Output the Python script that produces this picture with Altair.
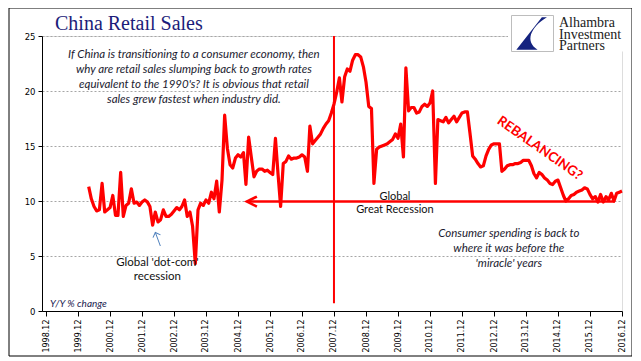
import altair as alt
import pandas as pd

# ---------------- data ----------------
title_text = "China Retail Sales"
series_start = "2000-04-01"          # first monthly observation
retail_yoy = [
    11.3, 10.2, 9.5, 9.1, 9.2, 11.6, 9.0, 9.2, 9.4, 10.5, 8.7, 8.7,
    12.6, 8.6, 9.6, 9.8, 11.1, 9.8, 9.9, 9.6, 9.9, 10.1, 9.9, 9.5,
    7.8, 9.0, 8.1, 8.3, 9.2, 8.6, 8.6, 8.8, 9.1, 9.4, 9.2, 9.5,
    10.1, 8.6, 9.0, 7.7, 4.3, 9.2, 9.8, 9.6, 10.1, 9.8, 10.8, 10.2,
    11.8, 9.0, 11.9, 17.8, 14.8, 13.3, 13.0, 13.9, 14.2, 14.0, 14.4, 11.5,
    15.8, 14.0, 12.2, 12.7, 12.9, 12.9, 12.7, 12.8, 12.6, 12.4, 15.7, 12.6,
    9.5, 13.4, 13.6, 14.1, 13.8, 13.9, 13.9, 14.0, 14.2, 14.0, 12.7, 16.8,
    15.2, 15.5, 15.8, 16.1, 16.6, 17.0, 17.3, 18.0, 18.8, 19.9, 21.2, 19.0,
    21.3, 22.0, 21.8, 22.8, 23.3, 23.3, 23.1, 22.2, 20.8, 18.6, 18.4, 11.6,
    14.7, 14.9, 15.0, 15.1, 15.2, 15.4, 15.6, 16.1, 15.7, 17.0, 14.0, 22.1,
    18.2, 18.5, 18.5, 18.0, 18.1, 18.6, 18.8, 18.6, 18.9, 20.0, 11.6, 17.4,
    17.3, 17.2, 17.6, 17.1, 17.4, 17.7, 17.2, 17.6, 18.0, 18.1, 18.1, 16.2,
    14.1, 13.8, 13.4, 13.1, 13.2, 14.1, 14.7, 15.1, 15.2, 15.2, 15.2, 12.7,
    12.9, 13.2, 13.3, 13.3, 13.4, 13.4, 13.5, 13.7, 13.7, 13.7, 13.2, 12.5,
    12.1, 12.6, 12.4, 12.1, 11.9, 11.6, 11.5, 11.8, 11.9, 11.2, 10.5, 10.0,
    10.2, 10.5, 10.6, 10.8, 10.9, 11.0, 11.2, 11.1, 10.6, 10.2, 10.4, 9.9,
    10.6, 9.9, 10.4, 10.1, 10.7, 10.0, 10.7, 10.8, 10.9,
]
tick_labels = ["1998.12", "1999.12", "2000.12", "2001.12", "2002.12", "2003.12",
               "2004.12", "2005.12", "2006.12", "2007.12", "2008.12", "2009.12",
               "2010.12", "2011.12", "2012.12", "2013.12", "2014.12", "2015.12",
               "2016.12"]
y_ticks = [0, 5, 10, 15, 20, 25]
x_domain = ["1998-10-16", "2016-12-01"]

question_lines = [
    "If China is transitioning to a consumer economy, then",
    "why are retail sales slumping back to growth rates",
    "equivalent to the 1990's?  It is obvious that retail",
    "sales grew fastest when industry did.",
]
question_date = "2003-07-16"
question_vals = [23.27, 21.91, 20.55, 19.18]

consumer_lines = ["Consumer spending is back to", "where it was before the", "'miracle' years"]
consumer_date = "2013-05-19"
consumer_vals = [7.0, 5.64, 4.27]

dotcom_lines = ["Global 'dot-com'", "recession"]
dotcom_date = "2002-05-25"
dotcom_vals = [4.34, 3.12]

gr_lines = ["Global", "Great Recession"]
gr_date = "2009-10-27"
gr_vals = [10.39, 9.18]

rebal_text = "REBALANCING?"
rebal_date = "2014-05-07"
rebal_val = 14.79

yy_text = "Y/Y % change"
yy_date = "1999-01-16"
yy_val = 0.64

vline_date = "2007-12-01"
vline_vals = [25.0, 0.7]

harrow_dates = ["2005-03-12", "2016-09-11"]
harrow_val = 9.95

blue_arrow_tip = ("2002-05-02", 7.14)
blue_arrow_tail = ("2002-06-28", 5.91)

logo_lines = ["Alhambra", "Investment", "Partners"]

# ---------------- helpers ----------------
def dt(s):
    t = pd.Timestamp(s)
    return alt.DateTime(year=t.year, month=t.month, date=t.day)

tick_values = [alt.DateTime(year=int(l[:4]), month=int(l[5:]), date=1) for l in tick_labels]

dates = pd.date_range(pd.Timestamp(series_start), periods=len(retail_yoy), freq="MS")
df = pd.DataFrame({"date": dates, "value": retail_yoy})

AX_FONT = "DejaVu Sans"
TXT_FONT = "Lato"

x_axis = alt.Axis(values=tick_values, format="%Y.%m", labelAngle=-90,
                  labelAlign="right", labelBaseline="middle", tickSize=5,
                  labelPadding=3, grid=False, domainColor="black", tickColor="black",
                  labelColor="black", labelFont=AX_FONT, labelFontSize=8,
                  labelOverlap=False, labelFlush=False, labelSeparation=0)

x_main = alt.X(
    "date:T", title=None,
    scale=alt.Scale(domain=[dt(x_domain[0]), dt(x_domain[1])], nice=False),
    axis=x_axis,
)
y_main = alt.Y(
    "value:Q", title=None,
    scale=alt.Scale(domain=[0, 25], nice=False, zero=True),
    axis=alt.Axis(values=y_ticks, grid=True, gridDash=[2, 2], gridColor="#a6a6a6",
                  tickSize=4, labelPadding=3, domainColor="black", tickColor="black",
                  labelColor="black", labelFont=AX_FONT, labelFontSize=8.5),
)


def xq(field):
    return alt.X(field, title=None, axis=x_axis)


line = alt.Chart(df).mark_line(color="#ff0000", strokeWidth=3.2, strokeJoin="round").encode(
    x=x_main, y=y_main)

vline_df = pd.DataFrame({"date": [pd.Timestamp(vline_date)], "y0": [vline_vals[0]], "y1": [vline_vals[1]]})
vline = alt.Chart(vline_df).mark_rule(color="#ff0000", strokeWidth=2).encode(
    x=xq("date:T"), y=alt.Y("y0:Q", title=None), y2="y1:Q")

harrow_df = pd.DataFrame({"d0": [pd.Timestamp(harrow_dates[0])], "d1": [pd.Timestamp(harrow_dates[1])],
                          "v": [harrow_val]})
harrow = alt.Chart(harrow_df).mark_rule(color="#ff0000", strokeWidth=2.6).encode(
    x=xq("d0:T"), x2="d1:T", y=alt.Y("v:Q", title=None))
harrow_head = alt.Chart(harrow_df).mark_point(
    shape="M 2 -1 L 0 0 L 2 1", size=100, filled=False, color="#ff0000",
    strokeWidth=2.6, opacity=1).encode(x=xq("d0:T"), y=alt.Y("v:Q", title=None))

blue_df = pd.DataFrame({"d0": [pd.Timestamp(blue_arrow_tail[0])], "v0": [blue_arrow_tail[1]],
                        "d1": [pd.Timestamp(blue_arrow_tip[0])], "v1": [blue_arrow_tip[1]]})
blue_line = alt.Chart(blue_df).mark_rule(color="#4f81bd", strokeWidth=1).encode(
    x=xq("d0:T"), y=alt.Y("v0:Q", title=None), x2="d1:T", y2="v1:Q")
blue_head = alt.Chart(blue_df).mark_point(
    shape="M -1 1 L 0 0 L 1 1", size=64, filled=False, color="#4f81bd",
    strokeWidth=1, opacity=1, angle=340).encode(x=xq("d1:T"), y=alt.Y("v1:Q", title=None))


def text_layer(lines, date, vals, **kw):
    d = pd.DataFrame({"date": [pd.Timestamp(date)] * len(lines), "v": vals, "t": lines})
    return alt.Chart(d).mark_text(**kw).encode(
        x=xq("date:T"), y=alt.Y("v:Q", title=None), text="t:N")


q_text = text_layer(question_lines, question_date, question_vals, font=TXT_FONT, fontSize=11.5,
                    fontStyle="italic", color="#1b1b30", align="center", baseline="middle")
c_text = text_layer(consumer_lines, consumer_date, consumer_vals, font=TXT_FONT, fontSize=11.5,
                    fontStyle="italic", color="#1b1b30", align="center", baseline="middle")
d_text = text_layer(dotcom_lines, dotcom_date, dotcom_vals, font=TXT_FONT, fontSize=11.5,
                    color="#111111", align="center", baseline="middle")
g_text = text_layer(gr_lines, gr_date, gr_vals, font=TXT_FONT, fontSize=11,
                    color="#111111", align="center", baseline="middle")
r_text = text_layer([rebal_text], rebal_date, [rebal_val], font=TXT_FONT, fontSize=13.5,
                    fontWeight="bold", color="#ff0000", align="center", baseline="middle", angle=35)
yy = text_layer([yy_text], yy_date, [yy_val], font=TXT_FONT, fontSize=10, fontStyle="italic",
                color="#1b1b50", align="left", baseline="middle")

one = pd.DataFrame({"k": [0]})
title_mark = alt.Chart(one).mark_text(
    font="Liberation Serif", fontSize=20, color="#1c1c7a", align="left", baseline="alphabetic"
).encode(x=alt.value(13), y=alt.value(-6.5), text=alt.value(title_text))

logo_bg = alt.Chart(one).mark_rect(fill="white", stroke=None).encode(
    x=alt.value(466), x2=alt.value(585), y=alt.value(-26), y2=alt.value(15.5))
logo_box = alt.Chart(one).mark_rect(fill="white", stroke="#bdbdbd", strokeWidth=1).encode(
    x=alt.value(469.5), x2=alt.value(511.5), y=alt.value(-20.5), y2=alt.value(15.5))
logo_shape = alt.Chart(one).mark_point(
    shape="M 0.85 -0.95 L 0.55 -0.95 L -0.95 0.95 L 0.3 0.95 C -0.45 0.5 -0.15 -0.35 0.85 -0.95 Z",
    size=1156, filled=True, color="#14237f", opacity=1, strokeWidth=0
).encode(x=alt.value(490.5), y=alt.value(-2.5))
logo_txt = [
    alt.Chart(one).mark_text(
        font="Liberation Serif", fontSize=14, color="#222222", align="left", baseline="middle"
    ).encode(x=alt.value(517), y=alt.value(yv), text=alt.value(t))
    for t, yv in zip(logo_lines, [-13, -1.4, 10.2])
]

frame = alt.Chart(one).mark_rect(fillOpacity=0, stroke="black", strokeWidth=1).encode(
    x=alt.value(-33), x2=alt.value(590), y=alt.value(-28), y2=alt.value(320))

chart = alt.layer(
    line, vline, harrow, harrow_head, blue_line, blue_head,
    q_text, c_text, d_text, g_text, r_text, yy,
    title_mark, logo_bg, logo_box, logo_shape, *logo_txt, frame,
).properties(
    width=580, height=275,
    autosize=alt.AutoSizeParams(type="none"),
    padding={"left": 34, "top": 28, "right": 10, "bottom": 46},
).configure_view(stroke="#8c8c8c", strokeWidth=1).configure_axis(
    labelOverlap=False
).configure(background="white")

chart.save("out.html", embed_options={"renderer": "svg", "actions": False})
